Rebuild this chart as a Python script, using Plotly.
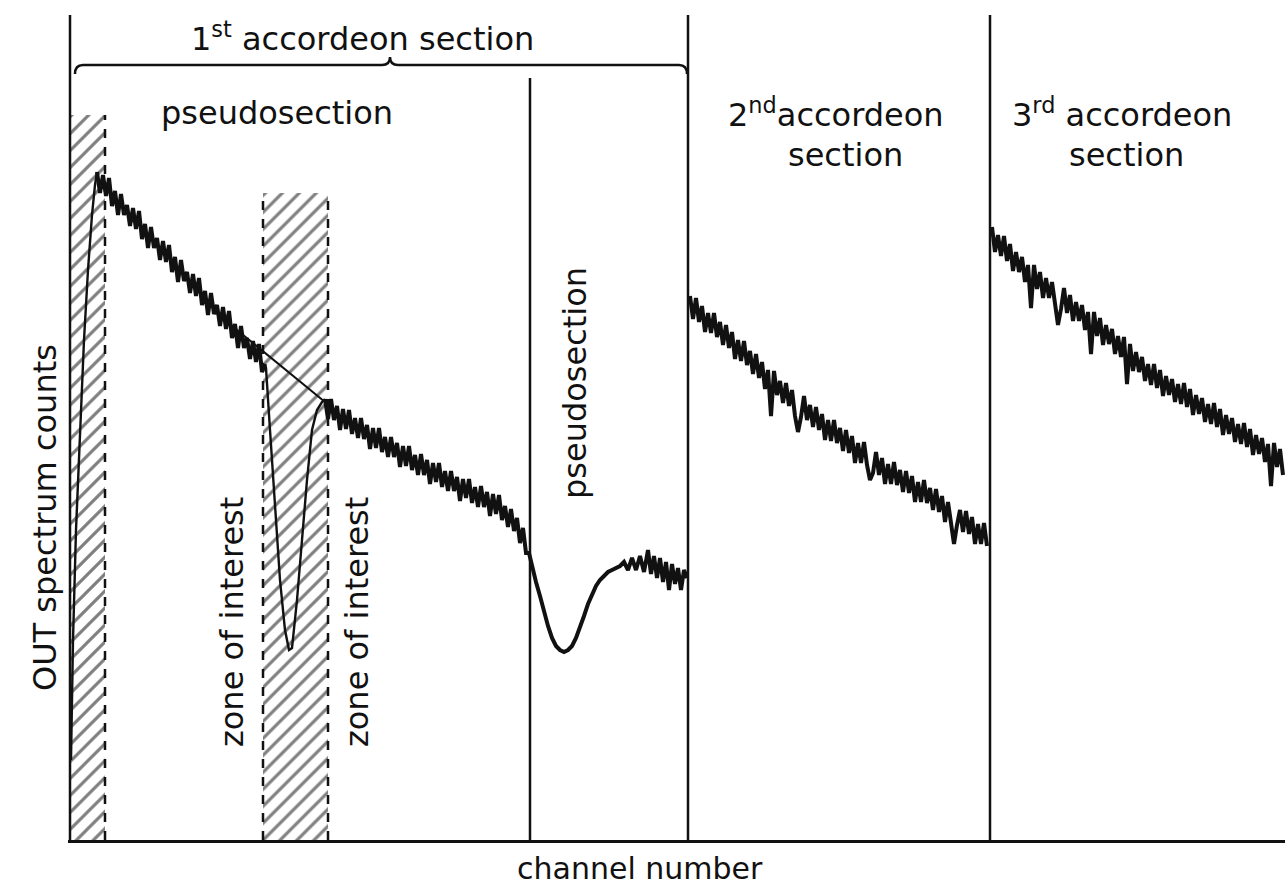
import plotly.graph_objects as go

# ---------------- data (channel number, counts) ----------------
# 1st accordeon section: rising edge
ch_rise = [1, 3, 6, 10, 14, 18, 22, 25]
cnt_rise = [80, 200, 310, 410, 500, 570, 625, 655]

# 1st section, noisy part before the zone of interest
ch_pre = list(range(27, 196, 3))
cnt_pre = [668, 647, 665, 644, 662, 634, 649, 625, 646, 625,
           635, 614, 632, 611, 629, 601, 616, 592, 613, 592,
           602, 580, 599, 578, 595, 568, 583, 558, 580, 559,
           568, 547, 566, 544, 562, 535, 549, 525, 547, 526,
           535, 514, 533, 511, 529, 502, 516, 492, 514, 492,
           502, 481, 499, 478, 496, 468, 476]

# zone of interest (absorption dip)
ch_zone = [196, 200, 205, 210, 215, 219, 222, 227, 232, 237, 242, 247, 252]
cnt_zone = [472, 410, 330, 260, 210, 190, 192, 240, 300, 360, 410, 430, 438]

# background interpolation across the zone
ch_bg = [145, 255]
cnt_bg = [528, 438]

# 1st section, noisy part after the zone
ch_post = list(range(255, 460, 3))
cnt_post = [441, 421, 441, 420, 434, 410, 431, 411, 430, 406,
            422, 402, 422, 401, 415, 391, 412, 392, 412, 388,
            403, 383, 403, 383, 397, 373, 394, 374, 394, 370,
            385, 365, 386, 365, 380, 356, 377, 358, 377, 353,
            369, 349, 369, 349, 363, 339, 361, 342, 361, 337,
            353, 333, 354, 333, 348, 324, 346, 326, 345, 320,
            334, 313, 331, 309, 322, 297, 312, 287, 287]

# pseudosection (second dip)
ch_dip = [462, 466, 470, 474, 478, 482, 486, 490, 494, 498, 502, 506, 510, 514, 518,
          522, 526, 530, 534, 538, 542, 546, 550, 554, 558, 562, 566, 570, 574, 578,
          581, 584, 587, 590, 593, 596, 599, 602, 605, 608, 611, 614, 617]
cnt_dip = [274, 258, 244, 228, 214, 202, 194, 190, 188, 190, 194, 202, 212, 224, 236,
           246, 254, 260, 264, 268, 270, 272, 274, 278, 270, 282, 270, 284, 268, 290,
           266, 284, 262, 282, 258, 278, 250, 276, 256, 272, 250, 270, 262]

# 2nd accordeon section
ch_s2 = list(range(620, 918, 3))
cnt_s2 = [544, 521, 542, 518, 534, 508, 527, 507, 527, 503,
          518, 495, 515, 492, 508, 481, 500, 479, 499, 475,
          489, 466, 486, 462, 478, 451, 470, 424, 469, 445,
          459, 437, 457, 434, 450, 424, 408, 423, 444, 420,
          435, 413, 433, 410, 426, 400, 420, 399, 420, 397,
          412, 389, 410, 387, 404, 377, 397, 377, 398, 375,
          360, 367, 388, 365, 382, 356, 376, 356, 378, 355,
          370, 348, 369, 347, 364, 338, 358, 338, 360, 337,
          352, 330, 351, 328, 344, 318, 338, 318, 296, 315,
          330, 308, 329, 306, 323, 296, 316, 296, 317, 294]

# 3rd accordeon section
ch_s3 = list(range(922, 1215, 3))
cnt_s3 = [613, 588, 605, 584, 604, 579, 596, 569, 588, 568,
          583, 558, 575, 532, 575, 551, 568, 542, 562, 542,
          558, 534, 515, 531, 552, 527, 545, 519, 538, 519,
          535, 510, 528, 486, 528, 504, 522, 495, 515, 496,
          511, 486, 504, 483, 503, 456, 496, 469, 488, 468,
          483, 459, 476, 455, 476, 452, 470, 444, 464, 445,
          461, 438, 456, 436, 457, 433, 451, 425, 445, 426,
          442, 418, 436, 416, 437, 413, 431, 405, 425, 406,
          422, 398, 416, 396, 417, 393, 411, 385, 405, 386,
          402, 378, 396, 354, 397, 373, 391, 365]

# hatched zones: (left channel, right channel, top count)
hatch_left = [0, 193]
hatch_right = [35, 258]
hatch_top = [725, 647]

# section boundaries: channel, top count
bound_ch = [0, 460, 618, 920]
bound_top = [825, 762, 825, 825]

INK = "#111111"
FONT = "DejaVu Sans"

fig = go.Figure()

# hatched zones as patterned bars
fig.add_trace(go.Bar(
    x=[(l + r) / 2 for l, r in zip(hatch_left, hatch_right)],
    y=hatch_top,
    width=[r - l for l, r in zip(hatch_left, hatch_right)],
    marker=dict(color="white", line=dict(width=0),
                pattern=dict(shape="/", fgcolor="#000000", bgcolor="white",
                             size=12, solidity=0.26)),
    showlegend=False, hoverinfo="skip"))

thin = dict(color=INK, width=2.4)
thick = dict(color=INK, width=4)
traces = [
    (ch_rise + ch_pre[:1], cnt_rise + cnt_pre[:1], thin),
    (ch_pre, cnt_pre, thick),
    (ch_pre[-1:] + ch_zone + ch_post[:1], cnt_pre[-1:] + cnt_zone + cnt_post[:1], thin),
    (ch_post + ch_dip, cnt_post + cnt_dip, thick),
    (ch_s2, cnt_s2, thick),
    (ch_s3, cnt_s3, thick),
    (ch_bg, cnt_bg, dict(color=INK, width=2)),
]
for xs, ys, ln in traces:
    fig.add_trace(go.Scatter(x=xs, y=ys, mode="lines", line=ln,
                             showlegend=False, hoverinfo="skip"))

shapes = []
for c, t in zip(bound_ch, bound_top):
    shapes.append(dict(type="line", xref="x", yref="y", x0=c, x1=c, y0=0, y1=t,
                       line=dict(color=INK, width=2.5)))
# dashed borders of hatched zones
shapes.append(dict(type="line", xref="x", yref="y", x0=hatch_right[0], x1=hatch_right[0],
                   y0=0, y1=hatch_top[0], line=dict(color=INK, width=2.5, dash="dash")))
for c in (hatch_left[1], hatch_right[1]):
    shapes.append(dict(type="line", xref="x", yref="y", x0=c, x1=c,
                       y0=0, y1=hatch_top[1], line=dict(color=INK, width=2.5, dash="dash")))
# brace over the 1st accordeon section
shapes.append(dict(type="path", xref="x", yref="y",
                   path="M 5,766 Q 5,775 13,775 L 312,775 Q 320,775 320,783 "
                        "Q 320,775 328,775 L 609,775 Q 617,775 617,766",
                   line=dict(color=INK, width=2.5)))

ann = []
def txt(x, y, s, size=32, angle=0, xref="x", yref="y"):
    ann.append(dict(x=x, y=y, xref=xref, yref=yref, text=s, showarrow=False,
                    textangle=angle, font=dict(family=FONT, size=size, color=INK),
                    xanchor="center", yanchor="middle"))

txt(292, 803, "1<sup>st</sup> accordeon section")
txt(207, 727, "pseudosection")
txt(766, 727, "2<sup>nd</sup>accordeon")
txt(775, 685, "section")
txt(1052, 727, "3<sup>rd</sup> accordeon")
txt(1056, 685, "section")
txt(505, 457, "pseudosection", angle=-90)
txt(162, 218, "zone of interest", angle=-90)
txt(287, 218, "zone of interest", angle=-90)
txt(-0.0189, 323, "OUT spectrum counts", size=32, angle=-90, xref="paper")
txt(570, -0.034, "channel number", size=30, yref="paper")

fig.update_layout(
    width=1285, height=885,
    margin=dict(l=68, r=0, t=0, b=45),
    paper_bgcolor="white", plot_bgcolor="white",
    shapes=shapes, annotations=ann,
    xaxis=dict(range=[-2, 1215], showgrid=False, zeroline=False, showticklabels=False,
               ticks="", showline=True, linecolor=INK, linewidth=2.5, fixedrange=True),
    yaxis=dict(range=[0, 840], visible=False, showgrid=False, zeroline=False,
               fixedrange=True),
    bargap=0,
)

fig.write_html("out.html", config={"displayModeBar": False},
               post_script="document.body.style.margin='0';document.body.style.overflow='hidden';")
